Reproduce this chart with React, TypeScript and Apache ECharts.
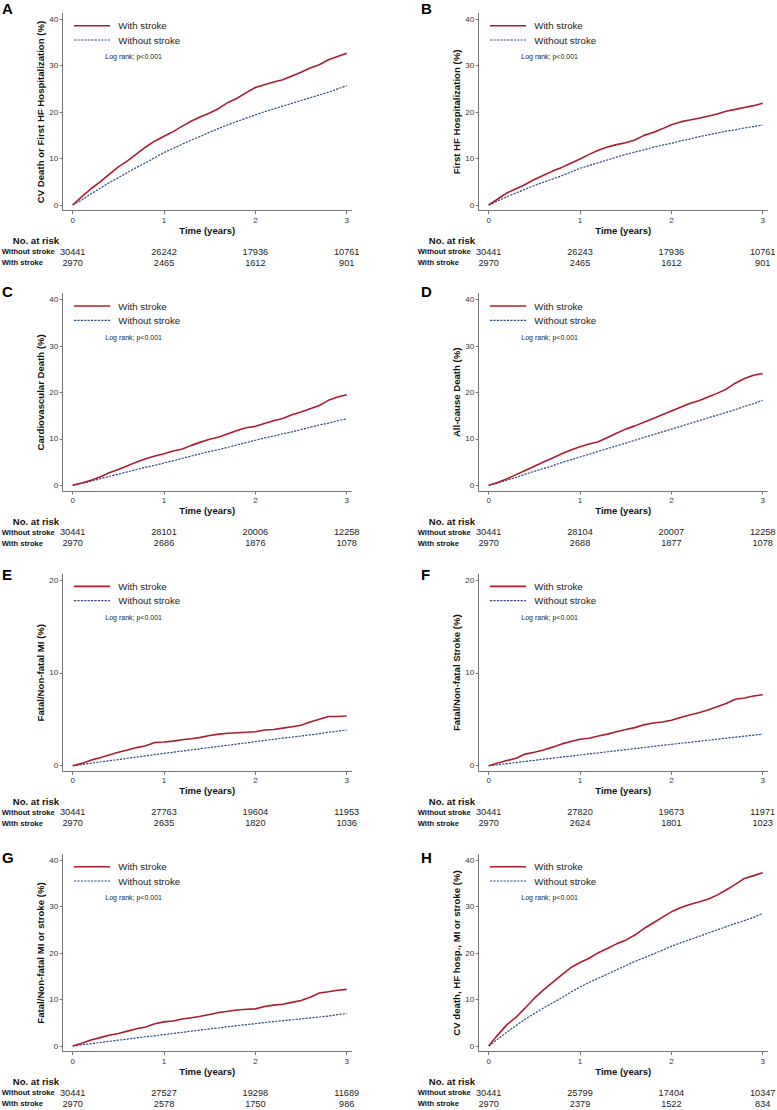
import React, { useEffect, useRef } from "react";
import * as echarts from "echarts";

// ---------- DATA ----------
const TIME = [0, 0.1, 0.2, 0.3, 0.4, 0.5, 0.6, 0.7, 0.8, 0.9, 1.0, 1.1, 1.2, 1.3, 1.4, 1.5, 1.6, 1.7, 1.8, 1.9, 2.0, 2.1, 2.2, 2.3, 2.4, 2.5, 2.6, 2.7, 2.8, 2.9, 3.0];
const X_TICKS = [0, 1, 2, 3];

const A_WITH = [0, 1.8, 3.5, 5.0, 6.6, 8.2, 9.5, 11.0, 12.5, 13.8, 14.8, 15.8, 17.0, 18.1, 19.0, 19.8, 20.8, 22.1, 23.0, 24.2, 25.3, 25.9, 26.5, 27.0, 27.8, 28.6, 29.5, 30.2, 31.3, 32.0, 32.7];
const A_WITHOUT = [0, 1.1, 2.4, 3.6, 4.8, 5.9, 7.0, 8.1, 9.1, 10.2, 11.3, 12.2, 13.1, 14.0, 14.8, 15.7, 16.5, 17.3, 18.0, 18.7, 19.4, 20.1, 20.7, 21.3, 21.9, 22.5, 23.1, 23.7, 24.3, 25.0, 25.7];
const B_WITH = [0, 1.3, 2.6, 3.5, 4.4, 5.5, 6.4, 7.3, 8.1, 9.0, 9.9, 10.9, 11.8, 12.5, 13.0, 13.4, 14.0, 15.0, 15.6, 16.4, 17.3, 17.9, 18.3, 18.7, 19.1, 19.6, 20.2, 20.6, 21.0, 21.4, 21.9];
const B_WITHOUT = [0, 0.9, 1.8, 2.6, 3.4, 4.2, 4.9, 5.6, 6.3, 7.1, 7.9, 8.5, 9.1, 9.7, 10.3, 10.9, 11.4, 11.9, 12.4, 12.9, 13.3, 13.8, 14.2, 14.7, 15.1, 15.5, 15.9, 16.2, 16.6, 16.9, 17.2];
const C_WITH = [0, 0.5, 1.1, 1.8, 2.7, 3.4, 4.2, 5.0, 5.7, 6.3, 6.8, 7.4, 7.8, 8.6, 9.3, 9.9, 10.4, 11.1, 11.8, 12.4, 12.7, 13.3, 13.9, 14.4, 15.2, 15.8, 16.5, 17.2, 18.3, 19.0, 19.5];
const C_WITHOUT = [0, 0.4, 0.9, 1.4, 1.9, 2.4, 2.9, 3.4, 3.9, 4.3, 4.8, 5.3, 5.8, 6.3, 6.8, 7.3, 7.7, 8.2, 8.7, 9.2, 9.7, 10.2, 10.6, 11.1, 11.5, 12.0, 12.5, 13.0, 13.4, 13.9, 14.3];
const D_WITH = [0, 0.6, 1.4, 2.3, 3.2, 4.1, 5.0, 5.9, 6.8, 7.6, 8.3, 8.9, 9.4, 10.3, 11.2, 12.1, 12.8, 13.6, 14.4, 15.2, 16.0, 16.8, 17.6, 18.2, 19.0, 19.8, 20.7, 22.0, 23.0, 23.7, 24.1];
const D_WITHOUT = [0, 0.5, 1.1, 1.7, 2.4, 3.0, 3.6, 4.2, 4.9, 5.5, 6.1, 6.7, 7.3, 7.9, 8.5, 9.1, 9.7, 10.3, 10.9, 11.5, 12.1, 12.7, 13.3, 13.9, 14.5, 15.1, 15.7, 16.3, 17.0, 17.6, 18.3];
const E_WITH = [0, 0.25, 0.6, 0.85, 1.15, 1.45, 1.7, 1.95, 2.15, 2.5, 2.55, 2.65, 2.8, 2.9, 3.05, 3.25, 3.4, 3.5, 3.55, 3.6, 3.65, 3.85, 3.9, 4.05, 4.2, 4.35, 4.7, 5.0, 5.3, 5.3, 5.35];
const E_WITHOUT = [0, 0.12, 0.26, 0.4, 0.53, 0.66, 0.8, 0.93, 1.06, 1.2, 1.33, 1.45, 1.58, 1.7, 1.83, 1.96, 2.08, 2.2, 2.33, 2.46, 2.6, 2.72, 2.84, 2.96, 3.08, 3.2, 3.33, 3.45, 3.6, 3.72, 3.85];
const F_WITH = [0, 0.3, 0.55, 0.8, 1.25, 1.45, 1.7, 2.0, 2.35, 2.6, 2.85, 2.95, 3.2, 3.4, 3.65, 3.9, 4.1, 4.4, 4.6, 4.7, 4.9, 5.2, 5.45, 5.7, 6.0, 6.35, 6.7, 7.15, 7.3, 7.5, 7.65];
const F_WITHOUT = [0, 0.1, 0.22, 0.34, 0.46, 0.58, 0.7, 0.81, 0.93, 1.04, 1.15, 1.27, 1.38, 1.5, 1.61, 1.73, 1.84, 1.96, 2.07, 2.19, 2.3, 2.41, 2.52, 2.63, 2.74, 2.85, 2.96, 3.07, 3.18, 3.29, 3.4];
const G_WITH = [0, 0.6, 1.3, 1.8, 2.3, 2.7, 3.2, 3.7, 4.1, 4.8, 5.2, 5.4, 5.8, 6.1, 6.4, 6.8, 7.2, 7.5, 7.75, 7.9, 8.0, 8.5, 8.8, 9.0, 9.4, 9.8, 10.5, 11.4, 11.7, 12.0, 12.2];
const G_WITHOUT = [0, 0.25, 0.5, 0.75, 1.0, 1.25, 1.5, 1.75, 2.0, 2.2, 2.45, 2.7, 2.95, 3.2, 3.45, 3.7, 3.9, 4.15, 4.4, 4.6, 4.8, 5.05, 5.25, 5.45, 5.65, 5.85, 6.05, 6.25, 6.45, 6.75, 7.0];
const H_WITH = [0, 2.4, 4.6, 6.2, 8.2, 10.3, 12.1, 13.7, 15.3, 16.9, 18.0, 18.9, 20.1, 21.0, 22.0, 22.8, 23.9, 25.3, 26.5, 27.7, 28.9, 29.8, 30.5, 31.0, 31.6, 32.5, 33.6, 34.8, 36.1, 36.7, 37.3];
const H_WITHOUT = [0, 1.5, 3.0, 4.4, 5.8, 7.0, 8.2, 9.3, 10.4, 11.6, 12.7, 13.7, 14.6, 15.5, 16.4, 17.3, 18.2, 19.0, 19.8, 20.6, 21.5, 22.2, 22.9, 23.6, 24.3, 25.0, 25.7, 26.4, 27.0, 27.7, 28.6];

const A_RISK_WITHOUT = [30441, 26242, 17936, 10761];
const A_RISK_WITH = [2970, 2465, 1612, 901];
const B_RISK_WITHOUT = [30441, 26243, 17936, 10761];
const B_RISK_WITH = [2970, 2465, 1612, 901];
const C_RISK_WITHOUT = [30441, 28101, 20006, 12258];
const C_RISK_WITH = [2970, 2686, 1876, 1078];
const D_RISK_WITHOUT = [30441, 28104, 20007, 12258];
const D_RISK_WITH = [2970, 2688, 1877, 1078];
const E_RISK_WITHOUT = [30441, 27763, 19604, 11953];
const E_RISK_WITH = [2970, 2635, 1820, 1036];
const F_RISK_WITHOUT = [30441, 27820, 19673, 11971];
const F_RISK_WITH = [2970, 2624, 1801, 1023];
const G_RISK_WITHOUT = [30441, 27527, 19298, 11689];
const G_RISK_WITH = [2970, 2578, 1750, 986];
const H_RISK_WITHOUT = [30441, 25799, 17404, 10347];
const H_RISK_WITH = [2970, 2379, 1522, 834];

const Y_TICKS_40 = [0, 10, 20, 30, 40];
const Y_TICKS_20 = [0, 10, 20];

const PANELS = [
  { letter: "A", title: "CV Death or First HF Hospitalization (%)", yTicks: Y_TICKS_40, withS: A_WITH, withoutS: A_WITHOUT, riskWithout: A_RISK_WITHOUT, riskWith: A_RISK_WITH },
  { letter: "B", title: "First HF Hospitalization (%)", yTicks: Y_TICKS_40, withS: B_WITH, withoutS: B_WITHOUT, riskWithout: B_RISK_WITHOUT, riskWith: B_RISK_WITH },
  { letter: "C", title: "Cardiovascular Death (%)", yTicks: Y_TICKS_40, withS: C_WITH, withoutS: C_WITHOUT, riskWithout: C_RISK_WITHOUT, riskWith: C_RISK_WITH },
  { letter: "D", title: "All-cause Death (%)", yTicks: Y_TICKS_40, withS: D_WITH, withoutS: D_WITHOUT, riskWithout: D_RISK_WITHOUT, riskWith: D_RISK_WITH },
  { letter: "E", title: "Fatal/Non-fatal MI (%)", yTicks: Y_TICKS_20, withS: E_WITH, withoutS: E_WITHOUT, riskWithout: E_RISK_WITHOUT, riskWith: E_RISK_WITH },
  { letter: "F", title: "Fatal/Non-fatal Stroke (%)", yTicks: Y_TICKS_20, withS: F_WITH, withoutS: F_WITHOUT, riskWithout: F_RISK_WITHOUT, riskWith: F_RISK_WITH },
  { letter: "G", title: "Fatal/Non-fatal MI or stroke (%)", yTicks: Y_TICKS_40, withS: G_WITH, withoutS: G_WITHOUT, riskWithout: G_RISK_WITHOUT, riskWith: G_RISK_WITH },
  { letter: "H", title: "CV death, HF hosp., MI or stroke (%)", yTicks: Y_TICKS_40, withS: H_WITH, withoutS: H_WITHOUT, riskWithout: H_RISK_WITHOUT, riskWith: H_RISK_WITH },
];

// ---------- LAYOUT / STYLE ----------
const COLS = [0, 416];
const ROWS = [0, 280.3, 560.7, 841];
const LETTER_Y = [8.7, 11.2, 13.5, 16.5];
const FONT = "'Liberation Sans', Arial, Helvetica, sans-serif";
const RED = "#ab1d2d";
const BLUE = "#2c4a8c";
const AXIS = "#777777";
const TXT = "#222222";

// plot geometry (relative to panel origin)
const AX_LEFT = 62.7;
const AX_RIGHT = 351.7;
const AX_TOP = 13.3;
const AX_BOTTOM = 210.7;
const Y0_PX = 205;
const YMAX_PX = 19.3;
const X0_PX = 72.7;
const X3_PX = 346.7;

function buildOption() {
  const grid: any[] = [];
  const xAxis: any[] = [];
  const yAxis: any[] = [];
  const series: any[] = [];
  const xPer = (X3_PX - X0_PX) / 3;
  PANELS.forEach((p, i) => {
    const ox = COLS[i % 2];
    const oy = ROWS[Math.floor(i / 2)];
    const yMax = p.yTicks[p.yTicks.length - 1];
    const yPer = (Y0_PX - YMAX_PX) / yMax;
    grid.push({
      left: ox + AX_LEFT,
      top: oy + AX_TOP,
      width: AX_RIGHT - AX_LEFT,
      height: AX_BOTTOM - AX_TOP,
      containLabel: false,
      outerBoundsMode: "none",
    });
    xAxis.push({
      type: "value",
      gridIndex: i,
      min: -(X0_PX - AX_LEFT) / xPer,
      max: 3 + (AX_RIGHT - X3_PX) / xPer,
      axisLine: { show: true, onZero: false, lineStyle: { color: AXIS, width: 1 } },
      axisTick: { show: true, length: 3.5, customValues: X_TICKS, lineStyle: { color: AXIS, width: 1 } },
      axisLabel: { show: true, customValues: X_TICKS, margin: 5.5, fontSize: 8, color: "#333", fontFamily: FONT },
      splitLine: { show: false },
      name: "Time (years)",
      nameLocation: "middle",
      nameGap: 14,
      nameTextStyle: { fontSize: 9.5, fontWeight: "bold", color: "#111", fontFamily: FONT },
    });
    yAxis.push({
      type: "value",
      gridIndex: i,
      min: -(AX_BOTTOM - Y0_PX) / yPer,
      max: yMax + (YMAX_PX - AX_TOP) / yPer,
      axisLine: { show: true, onZero: false, lineStyle: { color: AXIS, width: 1 } },
      axisTick: { show: true, length: 3, customValues: p.yTicks, lineStyle: { color: AXIS, width: 1 } },
      axisLabel: { show: true, customValues: p.yTicks, margin: 4.5, fontSize: 8, color: "#333", fontFamily: FONT },
      splitLine: { show: false },
      name: p.title,
      nameLocation: "middle",
      nameGap: 14,
      nameTextStyle: { fontSize: 9.6, fontWeight: "bold", color: "#111", fontFamily: FONT },
    });
    series.push({
      type: "line",
      name: "Without stroke",
      xAxisIndex: i,
      yAxisIndex: i,
      data: TIME.map((t, k) => [t, p.withoutS[k]]),
      symbol: "none",
      showSymbol: false,
      silent: true,
      z: 2,
      lineStyle: { color: BLUE, width: 1.2, type: [2.2, 1.2] },
    });
    series.push({
      type: "line",
      name: "With stroke",
      xAxisIndex: i,
      yAxisIndex: i,
      data: TIME.map((t, k) => [t, p.withS[k]]),
      symbol: "none",
      showSymbol: false,
      silent: true,
      z: 3,
      lineStyle: { color: RED, width: 1.6 },
    });
  });
  return {
    animation: false,
    backgroundColor: "#ffffff",
    textStyle: { fontFamily: FONT },
    grid,
    xAxis,
    yAxis,
    series,
  };
}

function txt(text: string, x: number, y: number, size: number, bold: boolean, align: string, color = TXT) {
  return {
    type: "text",
    x,
    y,
    silent: true,
    style: {
      text,
      fill: color,
      fontSize: size,
      fontWeight: bold ? "bold" : "normal",
      fontFamily: FONT,
      align,
      verticalAlign: "middle",
    },
  };
}

export default function App() {
  const ref = useRef<HTMLDivElement>(null);
  useEffect(() => {
    if (!ref.current) return;
    const chart = echarts.init(ref.current, null, { renderer: "svg" });
    chart.setOption(buildOption());
    const g: any[] = [];
    PANELS.forEach((p, i) => {
      const col = i % 2;
      const row = Math.floor(i / 2);
      const ox = COLS[col];
      const oy = ROWS[row];
      g.push(txt(p.letter, ox + (col === 0 ? 2 : 5), oy + LETTER_Y[row], 15, true, "left", "#000"));
      // legend
      g.push({
        type: "line",
        silent: true,
        shape: { x1: ox + 74, y1: oy + 25.7, x2: ox + 110, y2: oy + 25.7 },
        style: { stroke: RED, lineWidth: 1.6 },
      });
      g.push(txt("With stroke", ox + 118.3, oy + 25.7, 9.7, false, "left"));
      g.push({
        type: "line",
        silent: true,
        shape: { x1: ox + 74, y1: oy + 40, x2: ox + 110, y2: oy + 40 },
        style: { stroke: BLUE, lineWidth: 1.2, lineDash: [2.2, 1.2] },
      });
      g.push(txt("Without stroke", ox + 118.3, oy + 40, 9.7, false, "left"));
      g.push(txt("Log rank; p<0.001", ox + 105.3, oy + 56.7, 7, false, "left"));
      // risk table
      g.push(txt("No. at risk", ox + 12.7, oy + 240.7, 9.6, true, "left", "#111"));
      g.push(txt("Without stroke", ox + 1.7, oy + 251.7, 7.6, true, "left", "#111"));
      g.push(txt("With stroke", ox + 1.7, oy + 262.7, 7.6, true, "left", "#111"));
      X_TICKS.forEach((t, k) => {
        const x = chart.convertToPixel({ xAxisIndex: i } as any, t) as unknown as number;
        g.push(txt(String(p.riskWithout[k]), x, oy + 251.7, 9.2, false, "center"));
        g.push(txt(String(p.riskWith[k]), x, oy + 262.7, 9.2, false, "center"));
      });
    });
    chart.setOption({ graphic: g });
    return () => chart.dispose();
  }, []);
  return (
    <div
      ref={ref}
      style={{ position: "absolute", left: 0, top: 0, width: 777, height: 1110, background: "#fff" }}
    />
  );
}
